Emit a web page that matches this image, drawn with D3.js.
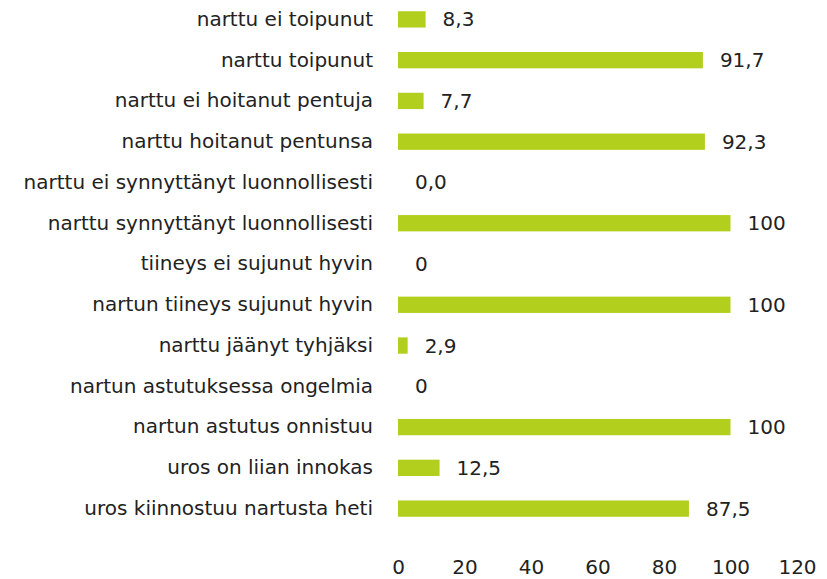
<!DOCTYPE html>
<html>
<head>
<meta charset="utf-8">
<script src="https://cdn.jsdelivr.net/npm/d3@7"></script>
<style>
  body { margin: 0; background: #fff; }
  svg text { font-family: "DejaVu Sans", sans-serif; fill: #222; }
</style>
</head>
<body>
<div id="chart"></div>
<script>
// Categories, top to bottom
const categories = [
    "narttu ei toipunut",
    "narttu toipunut",
    "narttu ei hoitanut pentuja",
    "narttu hoitanut pentunsa",
    "narttu ei synnyttänyt luonnollisesti",
    "narttu synnyttänyt luonnollisesti",
    "tiineys ei sujunut hyvin",
    "nartun tiineys sujunut hyvin",
    "narttu jäänyt tyhjäksi",
    "nartun astutuksessa ongelmia",
    "nartun astutus onnistuu",
    "uros on liian innokas",
    "uros kiinnostuu nartusta heti"
];
const values = [8.3, 91.7, 7.7, 92.3, 0, 100, 0, 100, 2.9, 0, 100, 12.5, 87.5];
const valueLabels = ["8,3", "91,7", "7,7", "92,3", "0,0", "100", "0", "100", "2,9", "0", "100", "12,5", "87,5"];
const xTicks = [0, 20, 40, 60, 80, 100, 120];

const width = 827, height = 579;
const fontSize = "20px";
const data = categories.map((c, i) => ({ cat: c, value: values[i], label: valueLabels[i] }));

const svg = d3.select("#chart")
    .append("svg")
    .attr("width", width)
    .attr("height", height);

const xScale = d3.scaleLinear()
    .domain([0, 120])
    .range([398, 797]);

const yScale = d3.scaleBand()
    .domain(categories)
    .range([-1, 529])
    .paddingInner(0.6)
    .paddingOuter(0.3);

// bars
svg.selectAll(".bar")
    .data(data)
    .enter()
    .append("rect")
    .attr("x", xScale(0))
    .attr("y", d => yScale(d.cat))
    .attr("width", d => xScale(d.value) - xScale(0))
    .attr("height", yScale.bandwidth())
    .attr("fill", "#b2cf1e");

// value labels
svg.selectAll(".val")
    .data(data)
    .enter()
    .append("text")
    .attr("x", d => xScale(d.value) + 17)
    .attr("y", d => yScale(d.cat) + yScale.bandwidth() / 2)
    .attr("dy", "0.35em")
    .style("font-size", fontSize)
    .text(d => d.label);

// category labels
const yAxis = svg.append("g")
    .attr("transform", "translate(" + (xScale(0) - 25) + ",0)")
    .call(d3.axisLeft(yScale).tickSize(0).tickPadding(0));
yAxis.select(".domain").remove();
yAxis.selectAll("text")
    .style("font-size", fontSize)
    .style("font-family", null);

// x axis
const xAxis = svg.append("g")
    .attr("transform", "translate(0,560)")
    .call(d3.axisBottom(xScale).tickValues(xTicks).tickSize(0).tickPadding(0));
xAxis.select(".domain").remove();
xAxis.selectAll("text")
    .style("font-size", fontSize)
    .style("font-family", null);
</script>
</body>
</html>
